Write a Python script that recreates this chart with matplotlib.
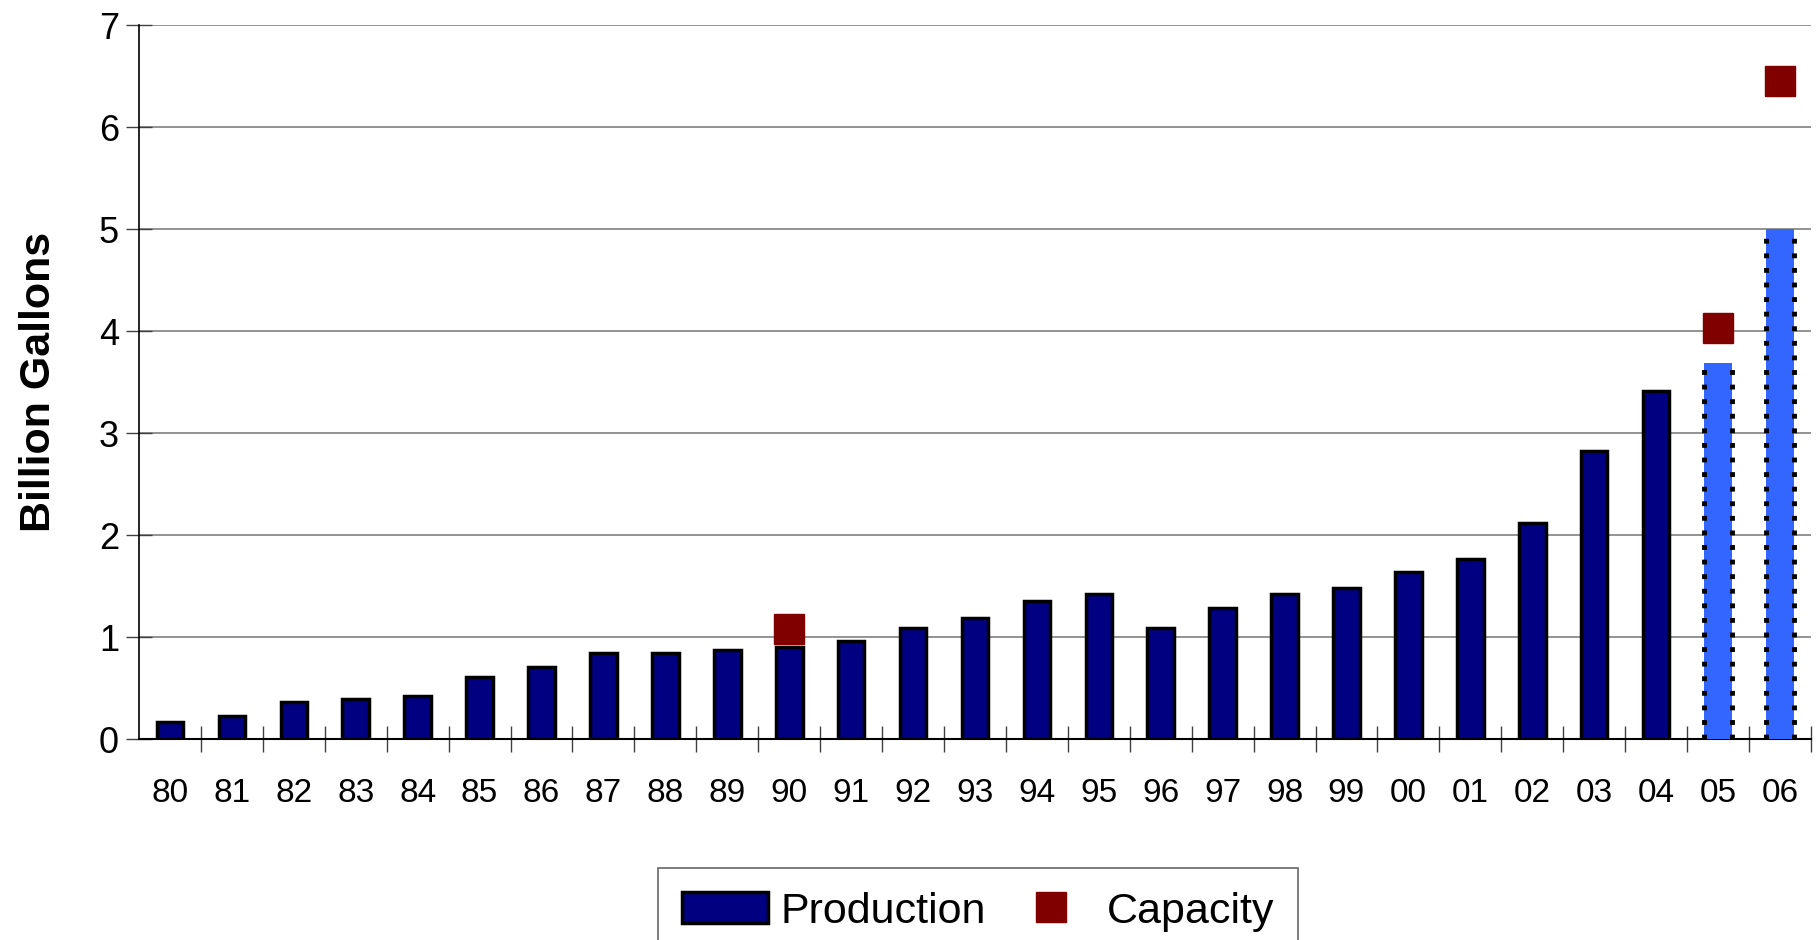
import numpy as np
import matplotlib
matplotlib.use("Agg")
import matplotlib.pyplot as plt
from matplotlib.patches import Patch
from matplotlib.lines import Line2D

plt.rcParams['font.family'] = ['Liberation Sans', 'DejaVu Sans']

# Ethanol production by year (billion gallons)
years = ['80', '81', '82', '83', '84', '85', '86', '87', '88', '89',
         '90', '91', '92', '93', '94', '95', '96', '97', '98', '99',
         '00', '01', '02', '03', '04', '05', '06']
production = [0.17, 0.23, 0.36, 0.39, 0.42, 0.61, 0.71, 0.84, 0.84, 0.87,
              0.90, 0.96, 1.09, 1.19, 1.35, 1.42, 1.09, 1.29, 1.42, 1.48,
              1.64, 1.77, 2.12, 2.83, 3.41, 3.69, 5.00]
# last two years are projections
projected = ['05', '06']

# capacity markers
cap_years = ['90', '05', '06']
capacity = [1.08, 4.03, 6.46]

fig = plt.figure(figsize=(18.2, 9.4), dpi=100)
ax = fig.add_axes([0.0764, 0.2138, 0.9186, 0.7591])

x = np.arange(len(years))
actual_idx = [i for i, y in enumerate(years) if y not in projected]
proj_idx = [i for i, y in enumerate(years) if y in projected]

ax.bar(x[actual_idx], [production[i] for i in actual_idx], width=0.43,
       color='#000080', edgecolor='black', linewidth=2.5, zorder=3)

proj_bars = ax.bar(x[proj_idx], [production[i] for i in proj_idx], width=0.46,
                   color='#3366FF', linewidth=0, zorder=3)
# dotted outline on the sides of projected bars
for r in proj_bars:
    x0, w, h = r.get_x(), r.get_width(), r.get_height()
    ax.vlines([x0, x0 + w], 0, h, colors='black', linestyles=(0, (1, 2)),
              linewidth=3.5, zorder=4)

cap_x = [years.index(y) for y in cap_years]
ax.plot(cap_x, capacity, linestyle='None', marker='s', markersize=21,
        color='#800000', zorder=5)

ax.set_xlim(-0.5, len(years) - 0.5)
ax.set_ylim(0, 7)
ax.set_yticks(range(8))
ax.yaxis.grid(True, color='#808080', linewidth=1.2, zorder=0)
ax.set_axisbelow(True)

ax.set_xticks(x)
ax.set_xticklabels(years)
ax.set_xticks(np.arange(0.5, len(years) - 0.5 + 1e-6, 1.0), minor=True)
ax.tick_params(axis='x', which='major', length=0, pad=28, labelsize=24)
ax.tick_params(axis='x', which='minor', direction='inout', length=19, width=1,
               color='#404040')
ax.tick_params(axis='y', direction='inout', length=19, width=1, pad=5,
               labelsize=26, color='#404040')

for s in ['top', 'right']:
    ax.spines[s].set_visible(False)
ax.spines['left'].set_linewidth(1.2)
ax.spines['bottom'].set_linewidth(1.5)

ax.set_ylabel('Billion Gallons', fontsize=31, fontweight='bold')
ax.yaxis.set_label_coords(-0.048, 0.5)

handles = [Patch(facecolor='#000080', edgecolor='black', linewidth=2.5),
           Line2D([], [], linestyle='None', marker='s', markersize=21,
                  color='#800000')]
leg = fig.legend(handles, ['Production', 'Capacity'], ncol=2,
                 loc='upper left', bbox_to_anchor=(658 / 1820, 1 - 868 / 940),
                 fontsize=31, frameon=True, fancybox=False, edgecolor='#404040',
                 handlelength=2.0, handleheight=0.75, handletextpad=0.3,
                 columnspacing=0.5, borderpad=0.55, borderaxespad=0)
leg.get_frame().set_linewidth(1.2)

fig.savefig('out.png', dpi=100)
